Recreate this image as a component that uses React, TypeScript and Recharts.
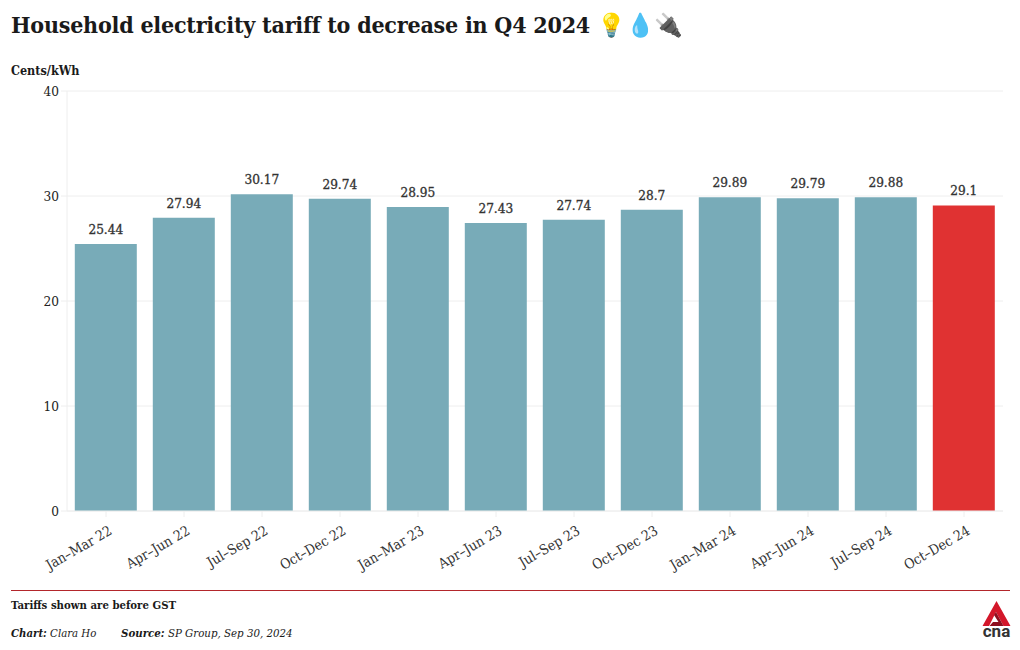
import { BarChart, Bar, CartesianGrid, Cell, LabelList, XAxis, YAxis } from "recharts";

const FONT = '"DejaVu Serif Condensed", "DejaVu Serif", serif';

const periods = [
  "Jan–Mar 22", "Apr–Jun 22", "Jul–Sep 22", "Oct–Dec 22",
  "Jan–Mar 23", "Apr–Jun 23", "Jul–Sep 23", "Oct–Dec 23",
  "Jan–Mar 24", "Apr–Jun 24", "Jul–Sep 24", "Oct–Dec 24",
];
const tariffs = [25.44, 27.94, 30.17, 29.74, 28.95, 27.43, 27.74, 28.7, 29.89, 29.79, 29.88, 29.1];
const yTicks = [0, 10, 20, 30, 40];

const data = periods.map((period, i) => ({ period, tariff: tariffs[i] }));

function Text({ x, y, size, bold, italic, spacing, children }: any) {
  return (
    <div
      style={{
        position: "absolute",
        left: x,
        top: y,
        fontSize: size,
        fontWeight: bold ? 700 : 400,
        fontStyle: italic ? "italic" : "normal",
        letterSpacing: spacing ?? 0,
        color: "#1a1a1a",
        whiteSpace: "nowrap",
        lineHeight: 1,
      }}
    >
      {children}
    </div>
  );
}

function CnaLogo() {
  return (
    <svg style={{ position: "absolute", left: 976, top: 598 }} width={42} height={44} viewBox="0 0 42 44">
      <path d="M20.5 3 L34.5 28 L27.5 28 L20 14 L13 28 L6.5 28 Z" fill="#d3172a" />
      <path d="M20 14 L27.5 28 L13.5 28 L17 24 L22.5 24 L18 17 Z" fill="#8e0f1f" />
      <text x={20.5} y={39} textAnchor="middle" fontFamily="Roboto, sans-serif" fontWeight={700} fontSize={17} fill="#333">
        cna
      </text>
    </svg>
  );
}

export default function App() {
  return (
    <div style={{ position: "absolute", left: 0, top: 0, width: 1020, height: 650, background: "#fff", fontFamily: FONT, overflow: "hidden" }}>
      <Text x={11} y={13} size={23} bold spacing={-0.22}>
        Household electricity tariff to decrease in Q4 2024
      </Text>
      <Text x={597} y={13} size={23} bold spacing={-0.5}>💡💧🔌</Text>
      <Text x={11} y={65} size={12.5} bold>Cents/kWh</Text>

      <div style={{ position: "absolute", left: 0, top: 0 }}>
        <BarChart
          width={1020}
          height={650}
          data={data}
          margin={{ top: 91, right: 17, bottom: 79, left: 0 }}
          barCategoryGap="10%"
        >
          <CartesianGrid vertical={false} stroke="#eeeeee" />
          <XAxis
            dataKey="period"
            interval={0}
            height={60}
            angle={-30}
            textAnchor="end"
            tickMargin={8}
            tickLine={{ stroke: "#eeeeee" }}
            axisLine={{ stroke: "#eeeeee" }}
            tick={{ fill: "#333", fontSize: 14, fontFamily: FONT, dx: 2 }}
          />
          <YAxis
            width={67}
            domain={[0, 40]}
            ticks={yTicks}
            tickLine={{ stroke: "#eeeeee" }}
            axisLine={{ stroke: "#eeeeee" }}
            tick={{ fill: "#222", fontSize: 13.5, fontFamily: FONT }}
          />
          <Bar dataKey="tariff" fill="#78abb8" isAnimationActive={false}>
            {data.map((d, i) => (
              <Cell key={d.period} fill={i === data.length - 1 ? "#e03232" : "#78abb8"} />
            ))}
            <LabelList
              dataKey="tariff"
              position="top"
              offset={10}
              fill="#333"
              fontSize={13.5}
              fontFamily={FONT}
              stroke="#333"
              strokeWidth={0.3}
            />
          </Bar>
        </BarChart>
      </div>

      <div style={{ position: "absolute", left: 11, top: 590, width: 999, height: 1, background: "#b3262b" }} />
      <Text x={11} y={600} size={11.3} bold>Tariffs shown are before GST</Text>
      <Text x={11} y={628} size={11.3} italic><b>Chart:</b> Clara Ho</Text>
      <Text x={121} y={628} size={11.4} italic><b>Source:</b> SP Group, Sep 30, 2024</Text>
      <CnaLogo />
    </div>
  );
}
